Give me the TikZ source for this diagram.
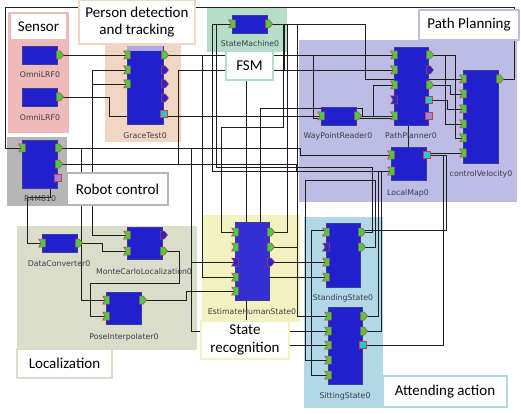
\documentclass[tikz,border=0pt]{standalone}
\usepackage{fontspec}
\newfontfamily\grpfont{Carlito}
\newfontfamily\cmpfont{DejaVu Sans}
\definecolor{cSensor}{RGB}{238,186,186}
\definecolor{cPerson}{RGB}{242,214,196}
\definecolor{cFSM}{RGB}{182,221,200}
\definecolor{cPath}{RGB}{188,188,228}
\definecolor{cRobot}{RGB}{182,182,182}
\definecolor{cLoc}{RGB}{217,221,201}
\definecolor{cState}{RGB}{242,242,192}
\definecolor{cAttend}{RGB}{176,216,230}
\definecolor{cBlock}{RGB}{32,32,206}
\definecolor{cBlockEdge}{RGB}{60,60,150}
\definecolor{cPortG}{RGB}{70,205,70}
\definecolor{cPortB}{RGB}{40,40,200}
\definecolor{cPortEdge}{RGB}{210,60,60}
\definecolor{cSvc}{RGB}{30,200,210}
\definecolor{cLav}{RGB}{150,140,225}
\definecolor{cText}{RGB}{60,60,80}
\definecolor{cWire}{RGB}{30,30,30}
\tikzset{
  wire/.style={draw=cWire, line width=0.75pt},
  block/.style={draw=cBlockEdge, fill=cBlock, line width=0.5pt, inner sep=0pt},
  glabel/.style={fill=white, line width=2pt, inner sep=0pt, align=center,
    font=\grpfont\fontsize{15}{17.5}\selectfont},
  clabel/.style={font=\cmpfont\fontsize{7.8}{9}\selectfont, text=cText, inner sep=0pt},
  portin/.pic={\draw[draw=cPortEdge, fill=cPortG, line width=0.5pt]
     (-3.4,-4) -- (3.4,-4) -- (3.4,4) -- (-3.4,4) -- (-0.9,0) -- cycle;},
  portinB/.pic={\draw[draw=cPortEdge, fill=cPortB, line width=0.5pt]
     (-3.4,-4) -- (3.4,-4) -- (3.4,4) -- (-3.4,4) -- (-0.9,0) -- cycle;},
  portout/.pic={\draw[draw=cPortEdge, fill=cPortG, line width=0.5pt]
     (-3.2,-4) -- (0.9,-4) -- (4,0) -- (0.9,4) -- (-3.2,4) -- cycle;},
  portoutB/.pic={\draw[draw=cPortEdge, fill=cPortB, line width=0.5pt]
     (-3.2,-4) -- (0.9,-4) -- (4,0) -- (0.9,4) -- (-3.2,4) -- cycle;},
  portsvc/.pic={\draw[draw=cPortEdge, fill=cSvc, line width=0.5pt] (-3.4,-3.4) rectangle (3.4,3.4);},
  portlav/.pic={\draw[draw=cPortEdge, fill=cLav, line width=0.5pt] (-3.4,-3.4) rectangle (3.4,3.4);},
}
\begin{document}
\begin{tikzpicture}[x=1pt,y=-1pt]
\useasboundingbox[fill=white] (0,0) rectangle (521,414);
% ---------- port coordinates
\coordinate (oa) at (59.5,55); \coordinate (ob) at (59.5,97);
\coordinate (g1) at (127,55); \coordinate (g2) at (127,70); \coordinate (g3) at (127,84);
\coordinate (go1) at (164.5,55); \coordinate (go2) at (164.5,70); \coordinate (go3) at (164.5,84);
\coordinate (go4) at (164.5,98); \coordinate (gs) at (164,114);
\coordinate (s1) at (232,24); \coordinate (so) at (268.5,24);
\coordinate (p1) at (394,55); \coordinate (p2) at (394,70); \coordinate (p3) at (394,85);
\coordinate (p4) at (394,100); \coordinate (p5) at (394,116);
\coordinate (po1) at (429.5,55); \coordinate (po2) at (429.5,70); \coordinate (po3) at (429.5,85);
\coordinate (ps1) at (429,100); \coordinate (ps2) at (429,116);
\coordinate (w1) at (321,116); \coordinate (wo) at (357.5,116);
\coordinate (co) at (499.5,79);
\coordinate (c1) at (463,79); \coordinate (c2) at (463,94); \coordinate (c3) at (463,109);
\coordinate (c4) at (463,124); \coordinate (c5) at (463,138); \coordinate (c6) at (463,153);
\coordinate (l1) at (391,155); \coordinate (l2) at (391,171); \coordinate (ls) at (427,155);
\coordinate (r1) at (22,148); \coordinate (ro1) at (58.5,148); \coordinate (ro2) at (58.5,164);
\coordinate (rs) at (58,178);
\coordinate (d1) at (42,243); \coordinate (dco) at (78.5,243);
\coordinate (m1) at (127,235); \coordinate (m2) at (127,251);
\coordinate (mo1) at (163.5,235); \coordinate (mo2) at (163.5,251);
\coordinate (q1) at (106,300); \coordinate (q2) at (106,316); \coordinate (qo) at (142.5,300);
\coordinate (e1) at (235,232); \coordinate (e2) at (235,247); \coordinate (e3) at (235,262);
\coordinate (e4) at (235,277); \coordinate (e5) at (235,291);
\coordinate (eo1) at (270.5,232); \coordinate (eo2) at (270.5,247); \coordinate (eo3) at (270.5,262);
\coordinate (t1) at (326,232); \coordinate (t2) at (326,247); \coordinate (t3) at (326,262);
\coordinate (t4) at (326,277); \coordinate (to1) at (361.5,232); \coordinate (to2) at (361.5,247);
\coordinate (u1) at (328,316); \coordinate (u2) at (328,331); \coordinate (u3) at (328,345);
\coordinate (u4) at (328,360); \coordinate (u5) at (328,375);
\coordinate (uo1) at (363.5,316); \coordinate (uo2) at (363.5,331); \coordinate (us) at (363,345);
% ---------- group backgrounds
\fill[cSensor] (8,12) rectangle (69,133);
\fill[cPerson] (105,44) rectangle (181,142);
\fill[cFSM] (207,8) rectangle (287,52);
\fill[cPath] (299,40) rectangle (517,202);
\fill[cRobot] (7,137) rectangle (67,206);
\fill[cLoc] (17,226) rectangle (197,350);
\fill[cState] (202,215) rectangle (300,322);
\fill[cAttend] (304,217) rectangle (383,408);
% ---------- wires
\draw[wire] (oa) -- (g1);
\draw[wire] (ob) -| (109,116) -- (w1);
\draw[wire] (go1) -- (p1);
\draw[wire] (go1) -| (202,277) -- (t4);
\draw[wire] (ro2) -| (178,70) -- (p2);
\draw[wire] (so) -| (365,79) -- (c1);
\draw[wire] (co) -| (514,7) -| (5,148) -- (r1);
\draw[wire] (eo1) -| (287,24) -- (so);
\draw[wire] (eo2) -| (297,24) -- (so);
\draw[wire] (eo2) -| (297,316) -- (u1);
\draw[wire] (to1) -| (372,167) -| (216,24) -- (s1);
\draw[wire] (uo1) -| (378,171) -| (212,24) -- (s1);
\draw[wire] (eo3) -- (t3);
\draw[wire] (ro1) -| (191,262) -- (e3);
\draw[wire] (ro1) -| (191,331) -- (u2);
\draw[wire] (qo) -| (186,291) -- (e5);
\draw[wire] (mo2) -| (179,283) -| (90,316) -- (q2);
\draw[wire] (dco) -| (102,251) -- (m2);
\draw[wire] (ro1) -| (92,70) -- (g2);
\draw[wire] (ro1) -| (92,84) -- (g3);
\draw[wire] (ro1) -| (92,235) -- (m1);
\draw[wire] (ro1) -| (81,300) -- (q1);
\draw[wire] (ro1) -| (50,197) -| (27,243) -- (d1);
\draw[wire] (wo) -| (373,85) -- (p3);
\draw[wire] (wo) -- (p5);
\draw[wire] (go1) -| (313,118) -| (408,153) -- (c6);
\draw[wire] (po1) -| (445,124) -- (c4);
\draw[wire] (po3) -| (450,94) -- (c2);
\draw[wire] (ps1) -| (447,109) -- (c3);
\draw[wire] (po1) -| (455,138) -- (c5);
\draw[wire] (ls) -| (443,345) -- (us);
\draw[wire] (ls) -| (446,230) -| (311,375) -- (u5);
\draw[wire] (ro1) -| (300,155) -- (l1);
\draw[wire] (ro2) -| (296,171) -- (l2);
\draw[wire] (uo2) -| (381,171) -- (l2);
\draw[wire] (to2) -| (375,180) -| (305,360) -- (u4);
\draw[wire] (so) -| (284,70) -| (246,345) -- (u3);
\draw[wire] (so) -| (283,127) -| (221,232) -- (e1);
\draw[wire] (wo) -| (362,108) -| (260,247) -- (e2);
% ---------- component blocks
\node[block, minimum width=35pt, minimum height=18pt] (omniA) at (39.5,55) {};
\node[block, minimum width=35pt, minimum height=18pt] (omniB) at (39.5,97) {};
\node[block, minimum width=36pt, minimum height=78pt] (grace) at (145,85) {};
\fill[cLav!75!white] (127.25,46.25) rectangle (162.75,51);
\node[block, minimum width=35pt, minimum height=18pt] (stm) at (249.5,24) {};
\node[block, minimum width=34pt, minimum height=78pt] (pp) at (411,86) {};
\node[block, minimum width=35pt, minimum height=18pt] (wpr) at (338.5,116) {};
\node[block, minimum width=35pt, minimum height=93pt] (cv) at (480.5,116.5) {};
\node[block, minimum width=35pt, minimum height=33pt] (lm) at (408.5,163.5) {};
\node[block, minimum width=35pt, minimum height=48pt] (r4) at (39.5,164) {};
\node[block, minimum width=35pt, minimum height=18pt] (dc) at (59.5,243) {};
\node[block, minimum width=35pt, minimum height=32pt] (mcl) at (144.5,243) {};
\node[block, minimum width=35pt, minimum height=32pt] (pint) at (123.5,308) {};
\node[block, minimum width=34pt, minimum height=78pt, fill=cBlock!85!cLav] (ehs) at (252,261) {};
\node[block, minimum width=34pt, minimum height=64pt] (ss) at (343,255) {};
\node[block, minimum width=34pt, minimum height=77pt] (sit) at (345,345.5) {};
% ---------- ports
\foreach \n in {g1,g2,g3,s1,p1,p2,p3,p5,w1,c1,c2,c3,c4,c5,c6,l1,l2,r1,d1,m1,m2,q1,q2,e1,e2,e4,e5,t1,t3,t4,u1,u2,u3,u4,u5}
  \pic at (\n) {portin};
\foreach \n in {p4,e3,t2} \pic at (\n) {portinB};
\foreach \n in {oa,ob,go1,so,po1,po3,wo,co,ro1,ro2,dco,mo2,qo,eo1,eo2,to1,to2,uo1,uo2}
  \pic at (\n) {portout};
\foreach \n in {go2,go3,go4,po2,mo1,eo3} \pic at (\n) {portoutB};
\foreach \n in {gs,ps1,ls,us} \pic at (\n) {portsvc};
\foreach \n in {ps2,rs} \pic at (\n) {portlav};
% ---------- group label boxes
\node[glabel, draw=cSensor, minimum width=57pt, minimum height=27pt] (lsensor) at (38.5,26.5) {Sensor};
\node[glabel, draw=cPerson, minimum width=116pt, minimum height=44pt] (lperson) at (137,22) {Person detection\\and tracking};
\node[glabel, draw=cFSM, minimum width=47pt, minimum height=29pt] (lfsm) at (249.5,65.5) {FSM};
\node[glabel, draw=cPath, minimum width=100pt, minimum height=30pt] (lpath) at (469,25) {Path Planning};
\node[glabel, draw=cRobot, minimum width=101pt, minimum height=32pt] (lrobot) at (117.5,189) {Robot control};
\node[glabel, draw=cLoc, minimum width=95pt, minimum height=29pt] (lloc) at (64.5,363.5) {Localization};
\node[glabel, draw=cState, minimum width=88pt, minimum height=38pt] (lstate) at (245,340) {State\\recognition};
\node[glabel, draw=cAttend, minimum width=124pt, minimum height=31pt] (lattend) at (445,391.5) {Attending action};
% ---------- component labels
\node[clabel] (nOmniA) at (40,75) {OmniLRF0};
\node[clabel] (nOmniB) at (40,118) {OmniLRF0};
\node[clabel] (nGrace) at (145,136) {GraceTest0};
\node[clabel] (nStm) at (250,44) {StateMachine0};
\node[clabel] (nWpr) at (338,136) {WayPointReader0};
\node[clabel] (nPp) at (411,136) {PathPlanner0};
\node[clabel] (nCv) at (481,174) {controlVelocity0};
\node[clabel] (nLm) at (408,193) {LocalMap0};
\node[clabel] (nR4) at (40,199) {R4M810};
\node[clabel] (nDc) at (59,264) {DataConverter0};
\node[clabel] (nMcl) at (144,272) {MonteCarloLocalization0};
\node[clabel] (nPint) at (124,337) {PoseInterpolater0};
\node[clabel] (nEhs) at (252,312) {EstimateHumanState0};
\node[clabel] (nSs) at (343,298) {StandingState0};
\node[clabel] (nSit) at (345,396) {SittingState0};
\end{tikzpicture}
\end{document}
